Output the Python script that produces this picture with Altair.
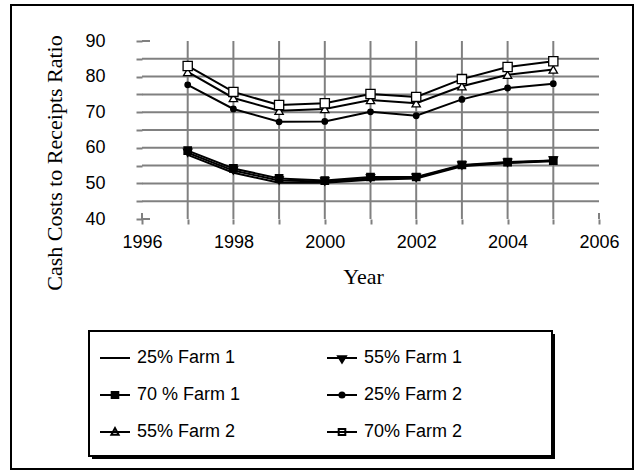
import altair as alt
import pandas as pd

# ---- data -------------------------------------------------------------
years = [1997, 1998, 1999, 2000, 2001, 2002, 2003, 2004, 2005]
series_names = ["25% Farm 1", "55% Farm 1", "70 % Farm 1",
                "25% Farm 2", "55% Farm 2", "70% Farm 2"]

farm1_25 = [58.0, 53.0, 50.2, 50.2, 51.0, 51.4, 54.8, 55.7, 56.2]
farm1_55 = [58.6, 53.6, 50.8, 50.5, 51.4, 51.6, 55.0, 55.8, 56.4]
farm1_70 = [59.2, 54.2, 51.4, 50.8, 51.8, 51.8, 55.2, 56.0, 56.4]
farm2_25 = [77.7, 70.9, 67.3, 67.4, 70.1, 69.0, 73.6, 76.8, 78.0]
farm2_55 = [81.3, 74.0, 70.4, 70.9, 73.4, 72.5, 77.3, 80.5, 82.0]
farm2_70 = [83.0, 75.7, 72.0, 72.5, 75.1, 74.3, 79.3, 82.7, 84.3]

series_values = [farm1_25, farm1_55, farm1_70, farm2_25, farm2_55, farm2_70]

# legend reads row by row: the legend fills columns first, so list it that way
legend_order = ["25% Farm 1", "70 % Farm 1", "55% Farm 2",
                "55% Farm 1", "25% Farm 2", "70% Farm 2"]

x_ticks = list(range(1996, 2007))
y_ticks = list(range(40, 95, 5))
h_grid = [45, 50, 55, 60, 65, 70, 75, 80, 85]
v_grid = years

# ---- styling ----------------------------------------------------------
GRID = "#808080"
SANS = "Liberation Sans"
SERIF = "Liberation Serif"

# marker for each series in the plot (None = plain line)
plot_marker = {
    "25% Farm 1": None,
    "55% Farm 1": ("triangle-down", "black", 70),
    "70 % Farm 1": ("square", "black", 55),
    "25% Farm 2": ("circle", "black", 30),
    "55% Farm 2": ("triangle-up", "white", 70),
    "70% Farm 2": ("square", "white", 85),
}

# legend swatches: a short line with the marker in the middle
legend_swatch = {
    "25% Farm 1": ("M-1,0H1", "black"),
    "55% Farm 1": ("M-1,0H1M-0.26,-0.12L0.26,-0.12L0,0.3Z", "black"),
    "70 % Farm 1": ("M-1,0H1M-0.22,-0.2H0.22V0.2H-0.22Z", "black"),
    "25% Farm 2": ("M-1,0H1M-0.17,0A0.17,0.17,0,1,0,0.17,0A0.17,0.17,0,1,0,-0.17,0Z", "black"),
    "55% Farm 2": ("M-1,0H1M-0.24,0.18L0.24,0.18L0,-0.26Z", "white"),
    "70% Farm 2": ("M-1,0H1M-0.22,-0.2H0.22V0.2H-0.22Z", "white"),
}
legend_paths = [legend_swatch[n][0] for n in legend_order]
legend_fills = [legend_swatch[n][1] for n in legend_order]

rows = []
for name, vals in zip(series_names, series_values):
    m = plot_marker[name]
    for yr, v in zip(years, vals):
        rows.append({
            "year": yr, "value": v, "series": name,
            "shape": m[0] if m else "",
            "fill": m[1] if m else "",
            "size": m[2] if m else 0,
        })
df = pd.DataFrame(rows)

W, H = 457, 178

x_scale = alt.Scale(domain=[1996, 2006], nice=False, zero=False)
y_scale = alt.Scale(domain=[40, 90], nice=False, zero=False)

x_axis = alt.Axis(
    values=x_ticks, grid=False, domain=False,
    tickColor=GRID, tickWidth=2, tickSize=5,
    labelExpr="datum.value % 2 === 0 ? '' + datum.value : ''",
    labelFont=SANS, labelFontSize=18, labelColor="black",
    labelPadding=9, labelFlush=False, labelOverlap=False,
    title="Year", titleFont=SERIF, titleFontSize=22, titleFontWeight="normal",
    titleColor="black", titleX=221, titleY=64, titleBaseline="alphabetic",
    titleAlign="center",
)
y_axis = alt.Axis(
    values=y_ticks, grid=False, domain=False,
    tickColor=GRID, tickWidth=2, tickSize=6,
    labelExpr="datum.value % 10 === 0 ? '' + datum.value : ''",
    labelFont=SANS, labelFontSize=18, labelColor="black",
    labelPadding=31, labelOverlap=False,
    title="Cash Costs to Receipts Ratio", titleFont=SERIF, titleFontSize=22,
    titleFontWeight="normal", titleColor="black", titleAngle=270,
    titleX=-81, titleY=121.5, titleBaseline="alphabetic", titleAlign="center",
)


def xenc(field):
    return alt.X(f"{field}:Q", scale=x_scale, axis=x_axis)


def yenc(field):
    return alt.Y(f"{field}:Q", scale=y_scale, axis=y_axis)


one = pd.DataFrame({"k": [0]})

# outer frame and legend box with drop shadow
frame = alt.Chart(one).mark_rect(fillOpacity=0, stroke="black", strokeWidth=2).encode(
    x=alt.value(-131), x2=alt.value(491), y=alt.value(-36), y2=alt.value(428))
shadow = alt.Chart(one).mark_rect(fill="black").encode(
    x=alt.value(-50), x2=alt.value(413), y=alt.value(293), y2=alt.value(418))
legend_box = alt.Chart(one).mark_rect(fill="white", stroke="black", strokeWidth=2).encode(
    x=alt.value(-53), x2=alt.value(410), y=alt.value(290), y2=alt.value(415))

# grid
hgrid = alt.Chart(pd.DataFrame({"gy": h_grid, "gx0": 1996, "gx1": 2006})).mark_rule(
    color=GRID, strokeWidth=2).encode(x=xenc("gx0"), x2="gx1:Q", y=yenc("gy"))
vgrid = alt.Chart(pd.DataFrame({"gx": v_grid, "gy0": 40, "gy1": 90})).mark_rule(
    color=GRID, strokeWidth=2).encode(x=xenc("gx"), y=yenc("gy0"), y2="gy1:Q")
ystub = alt.Chart(pd.DataFrame({"sy": [40, 90]})).mark_rule(
    color=GRID, strokeWidth=2).encode(y=yenc("sy"), x=alt.value(0), x2=alt.value(8))
xstub = alt.Chart(pd.DataFrame({"sx": [1996, 2006]})).mark_rule(
    color=GRID, strokeWidth=2).encode(x=xenc("sx"), y=alt.value(H - 6), y2=alt.value(H))

lines = alt.Chart(df).mark_line(color="black", strokeWidth=2).encode(
    x=xenc("year"), y=yenc("value"), detail="series:N")

points = alt.Chart(df).transform_filter("datum.size > 0").mark_point(
    filled=True, stroke="black", strokeWidth=1.3, opacity=1).encode(
    x=xenc("year"), y=yenc("value"),
    shape=alt.Shape("shape:N", scale=None),
    fill=alt.Fill("fill:N", scale=None),
    size=alt.Size("size:Q", scale=None),
)

leg = alt.Legend(
    orient="none", legendX=-43, legendY=301, columns=2, columnPadding=82,
    rowPadding=12, symbolSize=900, symbolStrokeWidth=2,
    symbolStrokeColor="black", labelFont=SANS, labelFontSize=18,
    labelColor="black", labelOffset=6, labelLimit=300, padding=0, title=None,
)

# legend entries (no visible marks of its own)
legend_layer = alt.Chart(df).transform_filter("false").mark_point(
    filled=True, stroke="black", strokeWidth=2, size=900, opacity=1).encode(
    shape=alt.Shape("series:N", scale=alt.Scale(domain=legend_order, range=legend_paths), legend=leg),
    fill=alt.Fill("series:N", scale=alt.Scale(domain=legend_order, range=legend_fills), legend=leg),
)

chart = alt.layer(
    frame, shadow, legend_box, hgrid, vgrid, ystub, xstub, lines, points, legend_layer
).properties(
    width=W, height=H,
    autosize=alt.AutoSizeParams(type="none"),
    padding={"left": 142, "top": 41, "right": 37, "bottom": 253},
    background="white",
).configure_view(strokeWidth=0)

chart.save("out.html", embed_options={"renderer": "svg", "actions": False})
